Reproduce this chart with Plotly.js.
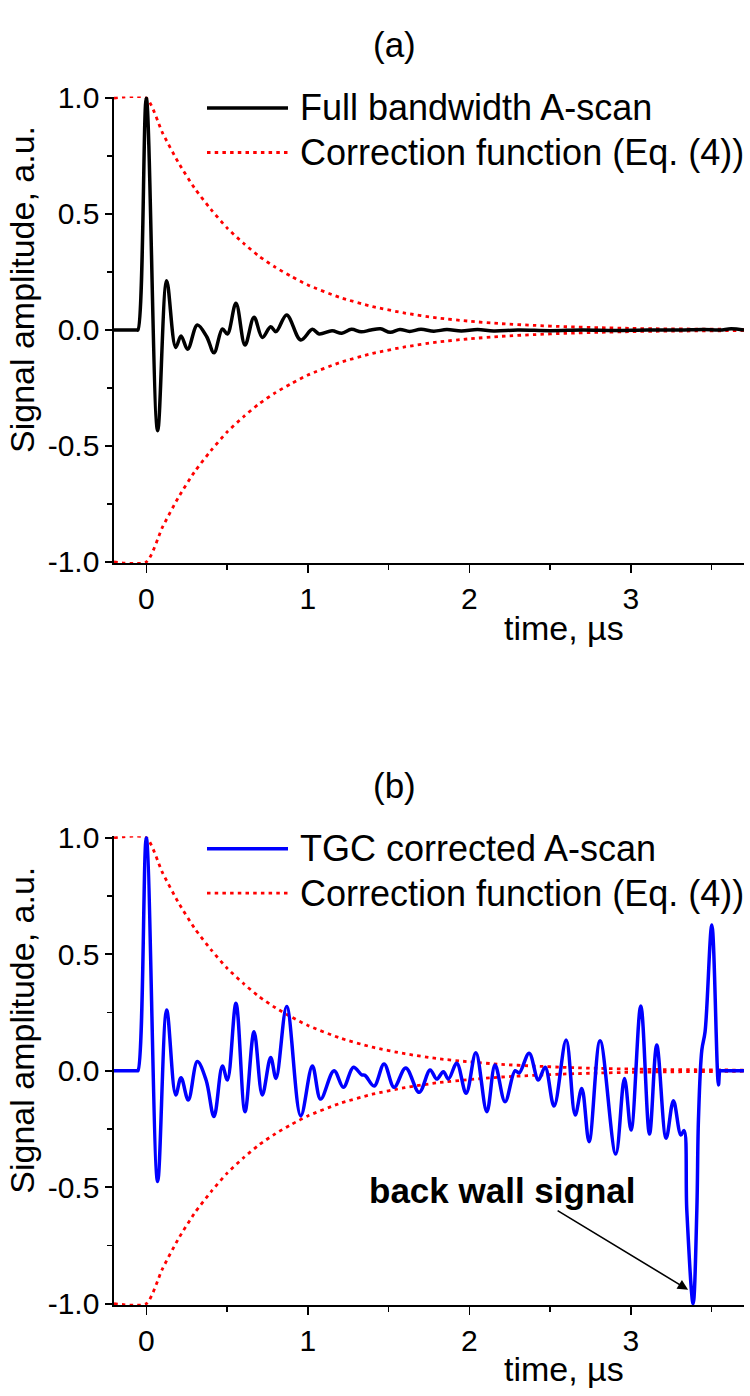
<!DOCTYPE html>
<html>
<head>
<meta charset="utf-8">
<script src="https://cdn.plot.ly/plotly-3.0.1.min.js"></script>
<style>html,body{margin:0;padding:0;background:#fff;}#chart{width:750px;height:1396px;}</style>
</head>
<body>
<div id="chart"></div>
<script>
// ---- data ----
const timeA = [-0.2, -0.06, -0.052, 0.0, 0.070, 0.126, 0.182, 0.215, 0.256, 0.316, 0.374, 0.419, 0.471, 0.502, 0.555, 0.611, 0.667, 0.718, 0.770, 0.803, 0.869, 0.956, 1.028, 1.07, 1.15, 1.21, 1.27, 1.33, 1.39, 1.45, 1.51, 1.57, 1.63, 1.70, 1.78, 1.86, 1.95, 2.05, 2.15, 2.30, 2.50, 2.70, 2.90, 3.10, 3.30, 3.45, 3.55, 3.62, 3.70];
const ampA  = [0, 0, 0, 1.0, -0.434, 0.212, -0.075, -0.026, -0.083, 0.022, -0.029, -0.098, 0.004, -0.017, 0.115, -0.065, 0.055, -0.032, 0.014, -0.007, 0.065, -0.043, 0.003, -0.017, -0.003, -0.014, 0.003, -0.008, 0.0, 0.005, -0.010, 0.002, -0.006, 0.003, -0.005, 0.002, -0.004, 0.002, -0.004, 0.0, -0.003, 0.0, -0.002, 0.0, 0.0, 0.002, 0.0, 0.005, 0.0];

const timeB = [-0.2, -0.06, -0.052, 0.0, 0.070, 0.126, 0.182, 0.215, 0.260, 0.316, 0.370, 0.419, 0.471, 0.502, 0.555, 0.611, 0.667, 0.718, 0.770, 0.803, 0.869, 0.956, 1.028, 1.079, 1.162, 1.220, 1.282, 1.334, 1.354, 1.410, 1.472, 1.534, 1.606, 1.689, 1.757, 1.798, 1.839, 1.870, 1.922, 1.980, 2.040, 2.108, 2.159, 2.221, 2.283, 2.308, 2.370, 2.427, 2.469, 2.524, 2.599, 2.655, 2.696, 2.741, 2.809, 2.906, 2.960, 3.001, 3.061, 3.115, 3.160, 3.218, 3.263, 3.309, 3.329, 3.346, 3.385, 3.408, 3.418, 3.439, 3.459, 3.501, 3.542, 3.552, 3.560, 3.700];
const ampB  = [0, 0, 0, 1.0, -0.476, 0.260, -0.104, -0.030, -0.126, 0.039, -0.040, -0.197, 0.020, -0.040, 0.289, -0.176, 0.167, -0.104, 0.057, -0.033, 0.275, -0.194, 0.020, -0.122, 0.0, -0.071, 0.015, -0.018, -0.020, -0.066, 0.029, -0.071, 0.012, -0.093, 0.003, -0.036, -0.004, -0.036, 0.032, -0.097, 0.077, -0.176, 0.024, -0.133, 0.0, -0.010, 0.075, -0.040, 0.015, -0.152, 0.132, -0.190, -0.076, -0.305, 0.129, -0.358, -0.033, -0.255, 0.278, -0.272, 0.110, -0.290, -0.129, -0.276, -0.257, -0.60, -1.0, -0.60, -0.21, 0.089, 0.167, 0.625, -0.061, 0.0, 0.0, 0.0];

const timeC   = [-0.2, 0.0, 0.1, 0.2, 0.3, 0.4, 0.5, 0.6, 0.7, 0.8, 0.9, 1.0, 1.2, 1.4, 1.6, 1.8, 2.0, 2.2, 2.4, 2.6, 2.8, 3.0, 3.2, 3.4, 3.6, 3.7];
const corrUp  = [1, 1, 0.85, 0.72, 0.61, 0.52, 0.44, 0.375, 0.317, 0.27, 0.23, 0.194, 0.14, 0.101, 0.073, 0.052, 0.038, 0.027, 0.02, 0.014, 0.01, 0.007, 0.005, 0.004, 0.003, 0.002];
const corrLow = [-1, -1, -0.85, -0.72, -0.61, -0.52, -0.44, -0.375, -0.317, -0.27, -0.23, -0.194, -0.14, -0.101, -0.073, -0.052, -0.038, -0.027, -0.02, -0.014, -0.01, -0.007, -0.005, -0.004, -0.003, -0.002];

const yTickVals = [-1, -0.5, 0, 0.5, 1];
const yTickText = ['-1.0', '-0.5', '0.0', '0.5', '1.0'];
const yMinorVals = [-0.75, -0.25, 0.25, 0.75];
const xTickVals = [0, 1, 2, 3];
const xTickText = ['0', '1', '2', '3'];
const xMinorVals = [0.5, 1.5, 2.5, 3.5];

const nameA = 'Full bandwidth A-scan';
const nameB = 'TGC corrected A-scan';
const nameC = 'Correction function (Eq. (4))';

// ---- styling ----
const FONT = 'Liberation Sans, Arial, Helvetica, sans-serif';
const W = 750, H = 1396;
const px = v => v / W;
const py = v => 1 - v / H;
const RED_DOT = {color: '#ff0000', width: 2.8, dash: '3.5px,4.2px'};
const YR = 1.006;   // tiny pad so lines at +/-1 are not clipped

function sig(x, y, color, xa, ya, name) {
  return {x: x, y: y, xaxis: xa, yaxis: ya, name: name, type: 'scatter', mode: 'lines',
          line: {color: color, width: 3.5, shape: 'spline', smoothing: 1.0}, showlegend: false, hoverinfo: 'skip'};
}
function corr(y, xa, ya) {
  return {x: timeC, y: y, xaxis: xa, yaxis: ya, name: nameC, type: 'scatter', mode: 'lines',
          line: Object.assign({shape: 'spline', smoothing: 0.6}, RED_DOT), showlegend: false, hoverinfo: 'skip'};
}

const traces = [
  corr(corrUp, 'x', 'y'), corr(corrLow, 'x', 'y'),
  sig(timeA, ampA, '#000000', 'x', 'y', nameA),
  corr(corrUp, 'x2', 'y2'), corr(corrLow, 'x2', 'y2'),
  sig(timeB, ampB, '#0000ff', 'x2', 'y2', nameB)
];

const TICKFONT = {family: FONT, size: 30, color: '#000'};
function xAx(anchor) {
  return {domain: [114 / W, 744 / W], anchor: anchor, range: [-0.2, 3.7],
          showline: true, linecolor: '#000', linewidth: 1.6, mirror: false,
          ticks: 'outside', ticklen: 8, tickwidth: 1.6, tickcolor: '#000',
          tickmode: 'array', tickvals: xTickVals, ticktext: xTickText,
          minor: {tickmode: 'array', tickvals: xMinorVals, ticks: 'outside', ticklen: 5, tickwidth: 1.6, tickcolor: '#000', showgrid: false},
          showgrid: false, zeroline: false, tickfont: TICKFONT, fixedrange: true};
}
function yAx(anchor, top, bottom) {
  const pad = (YR - 1) * (bottom - top) / 2;
  return {domain: [py(bottom + pad), py(top - pad)], anchor: anchor, range: [-YR, YR],
          showline: true, linecolor: '#000', linewidth: 1.6, mirror: false,
          ticks: 'outside', ticklen: 7, tickwidth: 1.6, tickcolor: '#000',
          tickmode: 'array', tickvals: yTickVals, ticktext: yTickText,
          minor: {tickmode: 'array', tickvals: yMinorVals, ticks: 'outside', ticklen: 5, tickwidth: 1.6, tickcolor: '#000', showgrid: false},
          showgrid: false, zeroline: false, tickfont: TICKFONT, fixedrange: true};
}

const TITLE_SIZE = 34, LEG_SIZE = 36;
function txt(text, x, y, size, extra) {
  return Object.assign({text: text, xref: 'paper', yref: 'paper', x: px(x), y: py(y), showarrow: false,
          xanchor: 'center', yanchor: 'middle', font: {family: FONT, size: size, color: '#000'}}, extra || {});
}

const annotations = [];
const shapes = [];
function panel(off, label, sigName, sigColor) {
  annotations.push(txt(label, 395, 45 + off, 35));
  annotations.push(txt('Signal amplitude, a.u.', 22, 290 + off, TITLE_SIZE, {textangle: -90}));
  annotations.push(txt('time, µs', 564, 628 + off, TITLE_SIZE));
  // legend
  shapes.push({type: 'line', xref: 'paper', yref: 'paper', x0: px(207), x1: px(288), y0: py(108 + off), y1: py(108 + off),
               line: {color: sigColor, width: 3.5}});
  shapes.push({type: 'line', xref: 'paper', yref: 'paper', x0: px(207), x1: px(288), y0: py(152.5 + off), y1: py(152.5 + off),
               line: RED_DOT});
  annotations.push(txt(sigName, 298, 108 + off, LEG_SIZE, {xanchor: 'left'}));
  annotations.push(txt(nameC, 298, 152.5 + off, LEG_SIZE, {xanchor: 'left'}));
}
panel(0, '(a)', nameA, '#000000');
panel(740.7, '(b)', nameB, '#0000ff');

// back wall annotation
annotations.push({text: '<b>back wall signal</b>', xref: 'paper', yref: 'paper', x: px(502), y: py(1190), showarrow: false,
                  xanchor: 'center', yanchor: 'middle', font: {family: FONT, size: 35, color: '#000'}});
annotations.push({text: '', xref: 'x2', yref: 'y2', x: 3.354, y: -0.94, showarrow: true, ax: -132, ay: -80,
                  arrowhead: 2, arrowsize: 1.3, arrowwidth: 1.6, arrowcolor: '#000', standoff: 0});

const layout = {
  width: W, height: H, margin: {l: 0, r: 0, t: 0, b: 0},
  paper_bgcolor: '#fff', plot_bgcolor: '#fff', showlegend: false,
  font: {family: FONT, color: '#000'},
  xaxis: xAx('y'), yaxis: yAx('x', 98, 562),
  xaxis2: xAx('y2'), yaxis2: yAx('x2', 837.7, 1303.7),
  annotations: annotations, shapes: shapes
};

Plotly.newPlot('chart', traces, layout, {staticPlot: true, displayModeBar: false});
</script>
</body>
</html>
